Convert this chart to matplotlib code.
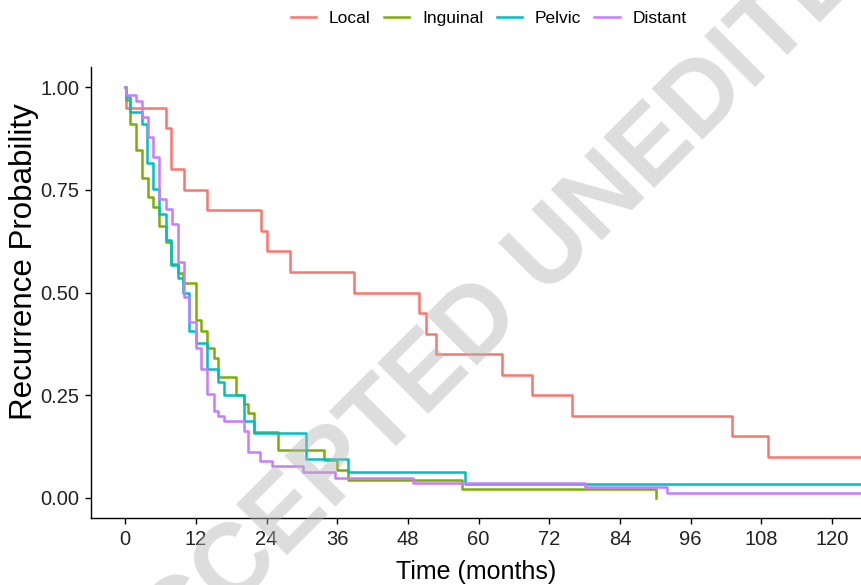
import matplotlib
matplotlib.use("Agg")
import matplotlib.pyplot as plt

OUT_FILE = "out.png"

GROUPS = ["Local", "Inguinal", "Pelvic", "Distant"]
COLORS = ["#F8766D", "#7CAE00", "#00BFC4", "#C77CFF"]

# step curves (time in months, recurrence probability)
local_t = [0, 0.2, 6.9, 7.8, 10.0, 13.9, 23.0, 24.0, 28.0, 38.9, 49.9, 51.1,
           52.8, 64.0, 69.1, 75.8, 103.1, 109.1, 127]
local_p = [1.0, 0.95, 0.90, 0.80, 0.75, 0.70, 0.65, 0.60, 0.55, 0.50, 0.45,
           0.40, 0.35, 0.30, 0.25, 0.20, 0.15, 0.10, 0.10]

inguinal_t = [0, 0.2, 0.74, 1.87, 2.83, 3.8, 4.8, 5.77, 7.0, 7.8, 8.9, 9.8,
              12.05, 12.9, 13.9, 15.0, 15.8, 18.85, 20.1, 20.9, 21.9, 25.9,
              33.7, 35.9, 37.9, 57.2, 90.1]
inguinal_p = [1.0, 0.97, 0.911, 0.848, 0.780, 0.733, 0.708, 0.663, 0.623,
              0.570, 0.547, 0.524, 0.432, 0.407, 0.364, 0.340, 0.295, 0.251,
              0.229, 0.206, 0.159, 0.115, 0.092, 0.067, 0.043, 0.021, 0.0]

pelvic_t = [0, 0.2, 0.74, 2.83, 3.7, 4.8, 5.77, 7.0, 7.8, 8.9, 9.8, 10.8,
            12.05, 13.9, 15.8, 16.8, 20.1, 21.9, 30.7, 37.9, 57.7, 127]
pelvic_p = [1.0, 0.978, 0.940, 0.911, 0.816, 0.753, 0.692, 0.627, 0.566,
            0.535, 0.500, 0.407, 0.377, 0.314, 0.281, 0.251, 0.186, 0.157,
            0.094, 0.062, 0.033, 0.033]

distant_t = [0, 0.1, 1.9, 2.83, 3.8, 4.8, 5.8, 7.0, 7.9, 8.9, 10.0, 10.8,
             12.05, 12.9, 13.9, 15.0, 15.8, 16.8, 20.1, 20.9, 22.9, 24.9,
             30.2, 35.7, 48.9, 78.1, 92.0, 127]
distant_p = [1.0, 0.982, 0.967, 0.928, 0.879, 0.830, 0.728, 0.704, 0.668,
             0.574, 0.489, 0.428, 0.364, 0.314, 0.253, 0.212, 0.200, 0.186,
             0.163, 0.110, 0.089, 0.078, 0.062, 0.048, 0.035, 0.025, 0.012,
             0.012]

X_TICKS = list(range(0, 121, 12))
Y_TICKS = [0.0, 0.25, 0.5, 0.75, 1.0]
Y_TICK_LABELS = ["0.00", "0.25", "0.50", "0.75", "1.00"]


def plot():
    plt.rcParams["font.family"] = ["Liberation Sans", "DejaVu Sans"]

    fig = plt.figure(figsize=(8.62, 5.85), dpi=100)
    ax = fig.add_axes([0.1056, 0.1145, 0.8944, 0.771])

    curves = [(local_t, local_p), (inguinal_t, inguinal_p),
              (pelvic_t, pelvic_p), (distant_t, distant_p)]
    for (t, p), name, color in zip(curves, GROUPS, COLORS):
        ax.step(t, p, where="post", color=color, lw=1.8, label=name)

    ax.set_xlim(-5.8, 125.1)
    ax.set_ylim(-0.05, 1.05)
    ax.set_xticks(X_TICKS)
    ax.set_yticks(Y_TICKS)
    ax.set_yticklabels(Y_TICK_LABELS)
    ax.tick_params(labelsize=14.5, length=4, width=1, color="black",
                   labelcolor="#222222", pad=4.5)

    for side in ["top", "right"]:
        ax.spines[side].set_visible(False)
    for side in ["left", "bottom"]:
        ax.spines[side].set_linewidth(1.0)
        ax.spines[side].set_color("black")

    ax.set_xlabel("Time (months)", fontsize=18, labelpad=8)
    ax.set_ylabel("Recurrence Probability", fontsize=22.5)
    ax.yaxis.set_label_coords(-0.068, 0.568)

    fig.legend(loc="center", bbox_to_anchor=(0.567, 0.969), ncol=4,
               frameon=False, fontsize=12.5, handlelength=1.47,
               handletextpad=0.74, columnspacing=0.75)

    # watermark over the plot
    fig.text(0.583, 0.482, "ACCEPTED UNEDITED", rotation=45,
             ha="center", va="center", fontsize=74, fontweight="bold",
             color="#b4b4b4", alpha=0.45, zorder=10)

    fig.savefig(OUT_FILE, dpi=100)
    print(f"[SAVED] {OUT_FILE}")


if __name__ == "__main__":
    plot()
